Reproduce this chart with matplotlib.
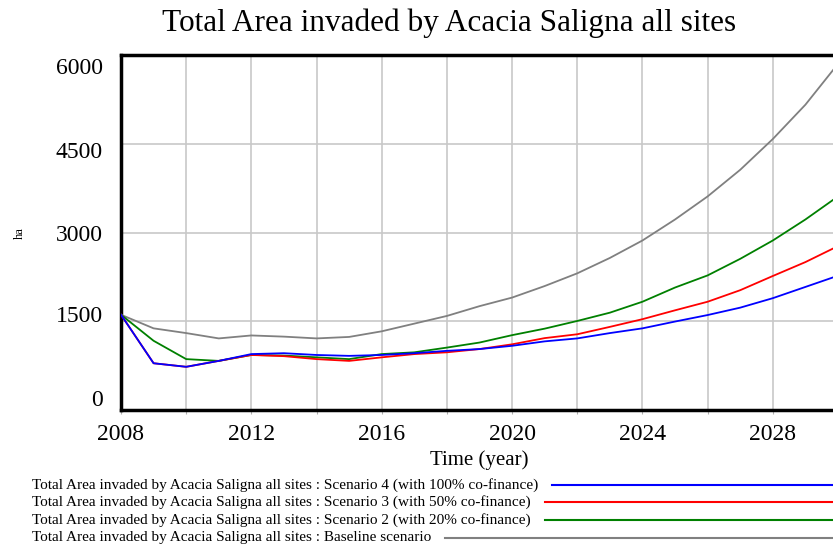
import matplotlib
matplotlib.use("Agg")
import matplotlib.pyplot as plt
from matplotlib.lines import Line2D
from matplotlib.transforms import ScaledTranslation

# ================== Data ==================

years = list(range(2008, 2031))
baseline = [1610, 1380, 1300, 1210, 1260, 1240, 1210, 1235, 1330, 1460, 1590, 1755,
            1900, 2095, 2310, 2570, 2865, 3220, 3610, 4060, 4580, 5160, 5850]
scen2 = [1610, 1170, 860, 830, 930, 920, 890, 860, 945, 975, 1055, 1140,
         1265, 1375, 1505, 1645, 1830, 2070, 2275, 2555, 2865, 3220, 3610]
scen3 = [1610, 790, 730, 830, 930, 910, 860, 830, 890, 945, 975, 1030,
         1110, 1215, 1280, 1405, 1535, 1685, 1830, 2025, 2265, 2500, 2770]
scen4 = [1610, 790, 730, 830, 945, 960, 930, 915, 930, 960, 1000, 1030,
         1085, 1160, 1210, 1300, 1380, 1495, 1605, 1730, 1890, 2080, 2270]

series_names = [
    "Total Area invaded by Acacia Saligna all sites : Scenario 4 (with 100% co-finance)",
    "Total Area invaded by Acacia Saligna all sites : Scenario 3 (with 50% co-finance)",
    "Total Area invaded by Acacia Saligna all sites : Scenario 2 (with 20% co-finance)",
    "Total Area invaded by Acacia Saligna all sites : Baseline scenario",
]
series_colors = ["#0000ff", "#ff0000", "#008000", "#808080"]
yticks = [0, 1500, 3000, 4500, 6000]
xticks = list(range(2008, 2031, 2))

# ================== Figure ==================

plt.rcParams['font.family'] = ['Liberation Serif', 'DejaVu Serif']
fig = plt.figure(figsize=(8.33, 5.47), dpi=100)
W, H = 833, 547
ax = fig.add_axes([121 / W, (H - 410) / H, (838 - 121) / W, (410 - 55) / H])

# draw grey first, then green, red, blue on top
for vals, col in [(baseline, series_colors[3]), (scen2, series_colors[2]),
                  (scen3, series_colors[1]), (scen4, series_colors[0])]:
    ax.plot(years, vals, color=col, lw=1.3, zorder=3)

ax.set_xlim(2008, 2030)
ax.set_ylim(0, 6000)
ax.set_xticks(xticks)
ax.set_xticklabels([str(x) if (x - 2008) % 4 == 0 else "" for x in xticks])
ax.set_yticks(yticks)
ax.set_yticklabels([str(v) for v in yticks])
ax.grid(True, color="#c8c8c8", lw=1.2, zorder=0)
ax.tick_params(axis='both', labelsize=17, length=3, color="#b0b0b0", pad=7)
ax.tick_params(axis='y', length=0, pad=13)

# Vensim-style compressed y labels
dys = [12, 7, 0, -6, -11]
for lab, dy in zip(ax.get_yticklabels(), dys):
    lab.set_transform(lab.get_transform() + ScaledTranslation(0, dy / 100, fig.dpi_scale_trans))

for side in ['left', 'bottom', 'top']:
    ax.spines[side].set_linewidth(2.5)
ax.spines['right'].set_visible(False)

ax.set_xlabel("Time (year)", fontsize=15, labelpad=4)
fig.text(20 / W, 1 - 233 / H, "ha", fontsize=9, rotation=90, ha='center', va='center')
fig.text(449 / W, 1 - 23 / H, "Total Area invaded by Acacia Saligna all sites",
         fontsize=22.5, ha='center', va='center')

# legend: text then line to right edge
renderer = fig.canvas.get_renderer()
leg_y = [485, 502, 520, 538]
for name, col, yy in zip(series_names, series_colors, leg_y):
    t = fig.text(32 / W, 1 - yy / H, name, fontsize=11, ha='left', va='center')
    bb = t.get_window_extent(renderer)
    x0 = bb.x1 + 14
    fig.add_artist(Line2D([x0 / W, 1.0], [1 - yy / H, 1 - yy / H], color=col, lw=1.5,
                          transform=fig.transFigure))

fig.savefig("out.png", dpi=100)
